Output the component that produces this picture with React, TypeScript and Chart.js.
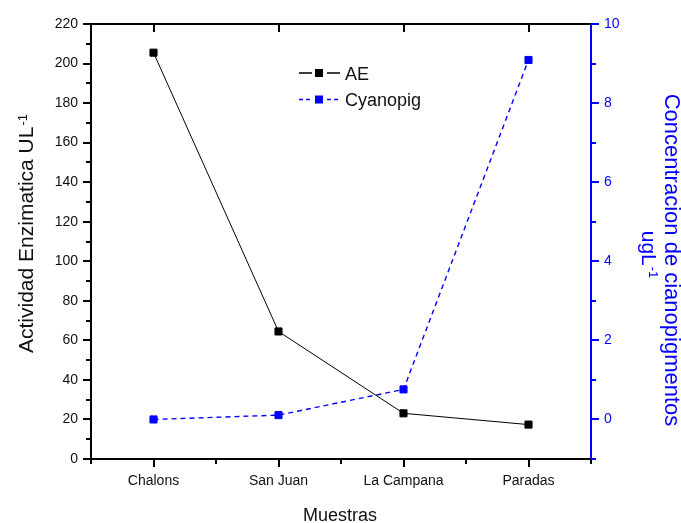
import React, { useEffect, useRef } from 'react';
import { Chart, registerables } from 'chart.js';

Chart.register(...registerables);

const categories = ['Chalons', 'San Juan', 'La Campana', 'Paradas'];
const seriesNames = ['AE', 'Cyanopig'];
const aeValues = [205.5, 64.5, 23.1, 17.4];
const cyanopigValues = [0, 0.11, 0.76, 9.09];
const leftTicks = [0, 20, 40, 60, 80, 100, 120, 140, 160, 180, 200, 220];
const leftMinorTicks = [10, 30, 50, 70, 90, 110, 130, 150, 170, 190, 210];
const rightTicks = [0, 2, 4, 6, 8, 10];
const rightMinorTicks = [-1, 1, 3, 5, 7, 9];
const xTitle = 'Muestras';
const yLeftTitle = 'Actividad Enzimatica UL';
const yRightTitle1 = 'Concentracion de cianopigmentos';
const yRightTitle2 = 'ugL';
const unitSup = '-1';

const FAMILY = '"Liberation Sans", Arial, Helvetica, sans-serif';
const BLACK = '#111111';
const BLUE = '#0000ff';

function drawSupText(ctx: CanvasRenderingContext2D, base: string, sup: string, size: number) {
  ctx.font = `${size}px ${FAMILY}`;
  const wb = ctx.measureText(base).width;
  const supSize = Math.round(size * 0.6);
  ctx.font = `${supSize}px ${FAMILY}`;
  const ws = ctx.measureText(sup).width;
  const start = -(wb + ws + 1) / 2;
  const baseline = size * 0.36;
  ctx.textAlign = 'left';
  ctx.textBaseline = 'alphabetic';
  ctx.font = `${size}px ${FAMILY}`;
  ctx.fillText(base, start, baseline);
  ctx.font = `${supSize}px ${FAMILY}`;
  ctx.fillText(sup, start + wb + 1, baseline - size * 0.3);
}

const decorPlugin = {
  id: 'decor',
  afterDraw(chart: any) {
    const ctx: CanvasRenderingContext2D = chart.ctx;
    const area = chart.chartArea;
    const x = chart.scales.x;
    const y = chart.scales.y;
    const y1 = chart.scales.y1;
    ctx.save();

    // top border
    ctx.strokeStyle = '#000';
    ctx.lineWidth = 2;
    ctx.beginPath();
    ctx.moveTo(area.left - 1, area.top);
    ctx.lineTo(area.right, area.top);
    ctx.stroke();

    // top ticks (inward) at categories
    categories.forEach((_, i) => {
      const px = Math.round(x.getPixelForTick(i));
      ctx.beginPath();
      ctx.moveTo(px, area.top);
      ctx.lineTo(px, area.top + 8);
      ctx.stroke();
    });

    // bottom minor ticks
    const pxs = categories.map((_, i) => x.getPixelForTick(i));
    const minorX = [area.left];
    for (let i = 0; i < pxs.length - 1; i++) minorX.push((pxs[i] + pxs[i + 1]) / 2);
    minorX.push(area.right);
    minorX.forEach((px) => {
      const p = Math.round(px);
      ctx.beginPath();
      ctx.moveTo(p, area.bottom);
      ctx.lineTo(p, area.bottom + 5);
      ctx.stroke();
    });

    // left minor ticks
    leftMinorTicks.forEach((v) => {
      const py = Math.round(y.getPixelForValue(v));
      ctx.beginPath();
      ctx.moveTo(area.left, py);
      ctx.lineTo(area.left - 5, py);
      ctx.stroke();
    });

    // right minor ticks
    ctx.strokeStyle = BLUE;
    rightMinorTicks.forEach((v) => {
      const py = Math.round(y1.getPixelForValue(v));
      ctx.beginPath();
      ctx.moveTo(area.right, py);
      ctx.lineTo(area.right + 5, py);
      ctx.stroke();
    });

    // titles
    ctx.fillStyle = BLACK;
    ctx.save();
    ctx.translate(25.5, 233.5);
    ctx.rotate(-Math.PI / 2);
    drawSupText(ctx, yLeftTitle, unitSup, 21);
    ctx.restore();

    ctx.font = `18px ${FAMILY}`;
    ctx.textAlign = 'center';
    ctx.textBaseline = 'alphabetic';
    ctx.fillText(xTitle, 340, 521);

    ctx.fillStyle = BLUE;
    ctx.save();
    ctx.translate(672.5, 260);
    ctx.rotate(Math.PI / 2);
    ctx.font = `22px ${FAMILY}`;
    ctx.textAlign = 'center';
    ctx.textBaseline = 'alphabetic';
    ctx.fillText(yRightTitle1, 0, 22 * 0.36);
    ctx.restore();
    ctx.save();
    ctx.translate(650, 254.5);
    ctx.rotate(Math.PI / 2);
    drawSupText(ctx, yRightTitle2, unitSup, 21);
    ctx.restore();

    // legend
    const rows = [
      { name: seriesNames[0], y: 73, color: '#000', dash: [] as number[] },
      { name: seriesNames[1], y: 99.5, color: BLUE, dash: [4, 3] },
    ];
    rows.forEach((r) => {
      ctx.strokeStyle = r.color;
      ctx.lineWidth = 1.3;
      ctx.setLineDash(r.dash);
      ctx.beginPath();
      ctx.moveTo(299, r.y);
      ctx.lineTo(312, r.y);
      ctx.moveTo(327, r.y);
      ctx.lineTo(340, r.y);
      ctx.stroke();
      ctx.setLineDash([]);
      ctx.fillStyle = r.color;
      ctx.fillRect(315, r.y - 4, 8, 8);
      ctx.fillStyle = BLACK;
      ctx.font = `18px ${FAMILY}`;
      ctx.textAlign = 'left';
      ctx.textBaseline = 'alphabetic';
      ctx.fillText(r.name, 345, r.y + 6.5);
    });

    ctx.restore();
  },
};

export default function App() {
  const ref = useRef<HTMLCanvasElement | null>(null);

  useEffect(() => {
    if (!ref.current) return;
    const tickFont = { family: FAMILY, size: 14 };
    const chart = new Chart(ref.current, {
      type: 'line',
      data: {
        labels: categories,
        datasets: [
          {
            label: seriesNames[0],
            data: aeValues,
            yAxisID: 'y',
            borderColor: '#000',
            backgroundColor: '#000',
            borderWidth: 1,
            pointStyle: 'rect',
            pointRadius: 5,
            pointBorderWidth: 1,
            pointBorderColor: '#000',
            pointBackgroundColor: '#000',
            tension: 0,
          },
          {
            label: seriesNames[1],
            data: cyanopigValues,
            yAxisID: 'y1',
            borderColor: BLUE,
            backgroundColor: BLUE,
            borderWidth: 1.4,
            borderDash: [5, 4],
            pointStyle: 'rect',
            pointRadius: 5,
            pointBorderWidth: 1,
            pointBorderColor: BLUE,
            pointBackgroundColor: BLUE,
            tension: 0,
          },
        ],
      },
      options: {
        responsive: false,
        animation: false,
        layout: { padding: { top: 24, left: 0, right: 0, bottom: 0 } },
        plugins: { legend: { display: false }, tooltip: { enabled: false } },
        scales: {
          x: {
            type: 'category',
            offset: true,
            grid: { display: true, drawOnChartArea: false, drawTicks: true, tickLength: 8, color: '#000', lineWidth: 2 },
            border: { display: true, color: '#000', width: 2 },
            ticks: { color: BLACK, font: tickFont, padding: 6, maxRotation: 0, autoSkip: false },
            afterFit: (s: any) => { s.height = 64; },
          },
          y: {
            type: 'linear',
            position: 'left',
            min: 0,
            max: 220,
            afterBuildTicks: (s: any) => { s.ticks = leftTicks.map((v) => ({ value: v })); },
            grid: { display: true, drawOnChartArea: false, drawTicks: true, tickLength: 8, color: '#000', lineWidth: 2 },
            border: { display: true, color: '#000', width: 2 },
            ticks: { color: BLACK, font: tickFont, padding: 5 },
            afterFit: (s: any) => { s.width = 91; },
          },
          y1: {
            type: 'linear',
            position: 'right',
            min: -1,
            max: 10,
            afterBuildTicks: (s: any) => { s.ticks = rightTicks.map((v) => ({ value: v })); },
            grid: { display: true, drawOnChartArea: false, drawTicks: true, tickLength: 8, color: BLUE, lineWidth: 2 },
            border: { display: true, color: BLUE, width: 2 },
            ticks: { color: BLUE, font: tickFont, padding: 5 },
            afterFit: (s: any) => { s.width = 90; },
          },
        },
      },
      plugins: [decorPlugin],
    });
    return () => chart.destroy();
  }, []);

  return (
    <div style={{ position: 'fixed', left: 0, top: 0, width: 681, height: 523, background: '#fff' }}>
      <canvas ref={ref} width={681} height={523} style={{ width: 681, height: 523, display: 'block' }} />
    </div>
  );
}
